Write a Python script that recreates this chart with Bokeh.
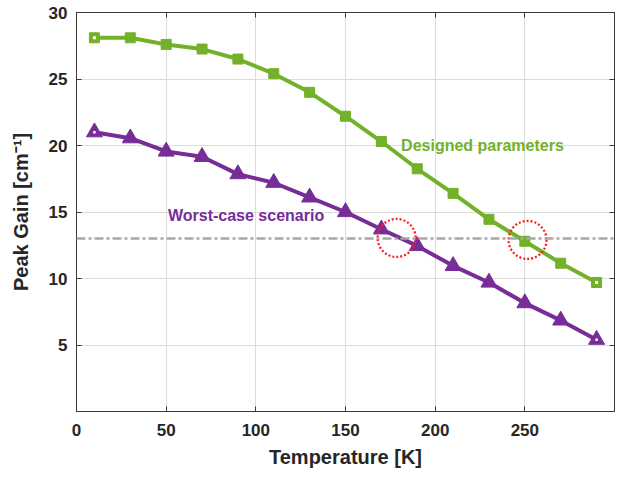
from bokeh.plotting import figure
from bokeh.models import FixedTicker, Span, LinearAxis, Label, Range1d, CustomLabelingPolicy
from bokeh.embed import file_html
from bokeh.resources import INLINE

# ---- data ----
temperature = [10, 30, 50, 70, 90, 110, 130, 150, 170, 190, 210, 230, 250, 270, 290]
designed = [28.1, 28.1, 27.6, 27.25, 26.5, 25.4, 24.0, 22.2, 20.3, 18.25, 16.4, 14.45, 12.8, 11.15, 9.7]
worst = [21.0, 20.55, 19.55, 19.15, 17.85, 17.2, 16.1, 15.0, 13.7, 12.45, 10.95, 9.7, 8.15, 6.85, 5.4]
threshold = 13.0
circle_x = [178.5, 251.5]
circle_y = [13.05, 12.9]
x_ticks = [0, 50, 100, 150, 200, 250]
y_ticks = [5, 10, 15, 20, 25, 30]
label_designed = "Designed parameters"
label_worst = "Worst-case scenario"
label_designed_pos = (181, 20.0)
label_worst_pos = (51, 14.75)

GREEN = "#74b12b"
PURPLE = "#772d98"
FONT = "Liberation Sans"
AXIS_COLOR = "#3a3a3a"

p = figure(width=618, height=473, output_backend="svg", toolbar_location=None,
           x_range=Range1d(0, 300), y_range=Range1d(0, 30),
           min_border_left=76, min_border_right=1, min_border_top=12, min_border_bottom=62)
p.background_fill_color = "white"
p.border_fill_color = "white"
p.outline_line_color = AXIS_COLOR
p.outline_line_width = 1

for ax in (p.xaxis[0], p.yaxis[0]):
    ax.major_label_text_font = FONT
    ax.major_label_text_font_style = "bold"
    ax.major_label_text_font_size = "17px"
    ax.major_label_text_color = "#262626"
    ax.axis_label_text_font = FONT
    ax.axis_label_text_font_style = "bold"
    ax.axis_label_text_font_size = "20px"
    ax.axis_label_text_color = "#262626"
    ax.axis_line_color = AXIS_COLOR
    ax.major_tick_line_color = AXIS_COLOR
    ax.major_tick_in = 5
    ax.major_tick_out = 0
    ax.minor_tick_line_color = None

p.xaxis.ticker = FixedTicker(ticks=x_ticks)
p.yaxis.ticker = FixedTicker(ticks=y_ticks)
p.xaxis.axis_label = "Temperature [K]"
p.yaxis.axis_label = "Peak Gain [cm\u207b\u00b9]"
p.xaxis.major_label_standoff = 12
p.yaxis.major_label_standoff = 9
p.xaxis.axis_label_standoff = 7
p.yaxis.axis_label_standoff = 14

# box ticks on top and right (no labels)
no_labels = CustomLabelingPolicy(code="for (const i of indices) { indices.unset(i) }\nreturn indices")
for loc in ("above", "right"):
    ax = LinearAxis(ticker=FixedTicker(ticks=x_ticks if loc == "above" else y_ticks))
    ax.major_label_policy = no_labels
    ax.major_label_text_font_size = "1px"
    ax.major_label_standoff = 0
    ax.major_tick_in = 5
    ax.major_tick_out = 0
    ax.minor_tick_line_color = None
    ax.axis_line_color = AXIS_COLOR
    ax.major_tick_line_color = AXIS_COLOR
    p.add_layout(ax, loc)

p.xgrid.ticker = FixedTicker(ticks=x_ticks)
p.ygrid.ticker = FixedTicker(ticks=y_ticks)
p.grid.grid_line_color = "#dcdcdc"
p.grid.grid_line_width = 1

# threshold line
p.add_layout(Span(location=threshold, dimension="width", line_color="#a8a8a8",
                  line_width=2.5, line_dash="9 3 3 3"))

# series
p.line(temperature, designed, line_color=GREEN, line_width=4)
p.scatter(temperature, designed, marker="square", size=10, fill_color=GREEN, line_color=GREEN)
p.line(temperature, worst, line_color=PURPLE, line_width=4)
p.scatter(temperature, worst, marker="triangle", size=16, fill_color=PURPLE, line_color=PURPLE)

# light centres on the end markers
ends = [0, len(temperature) - 1]
p.scatter([temperature[i] for i in ends], [designed[i] for i in ends], marker="square",
          size=3, fill_color="white", line_color=None)
p.scatter([temperature[i] for i in ends], [worst[i] for i in ends], marker="square",
          size=2.5, fill_color="white", line_color=None)

# dotted red circles
p.scatter(circle_x, circle_y, marker="circle", size=38, fill_color=None,
          line_color="#ff1a1a", line_width=2.2, line_dash="2 2")

# labels
p.add_layout(Label(x=label_designed_pos[0], y=label_designed_pos[1], text=label_designed,
                   text_font=FONT, text_font_style="bold", text_font_size="16px",
                   text_color=GREEN, text_baseline="middle", text_align="left"))
p.add_layout(Label(x=label_worst_pos[0], y=label_worst_pos[1], text=label_worst,
                   text_font=FONT, text_font_style="bold", text_font_size="16px",
                   text_color=PURPLE, text_baseline="middle", text_align="left"))

open("out.html", "w").write(file_html(p, INLINE))
